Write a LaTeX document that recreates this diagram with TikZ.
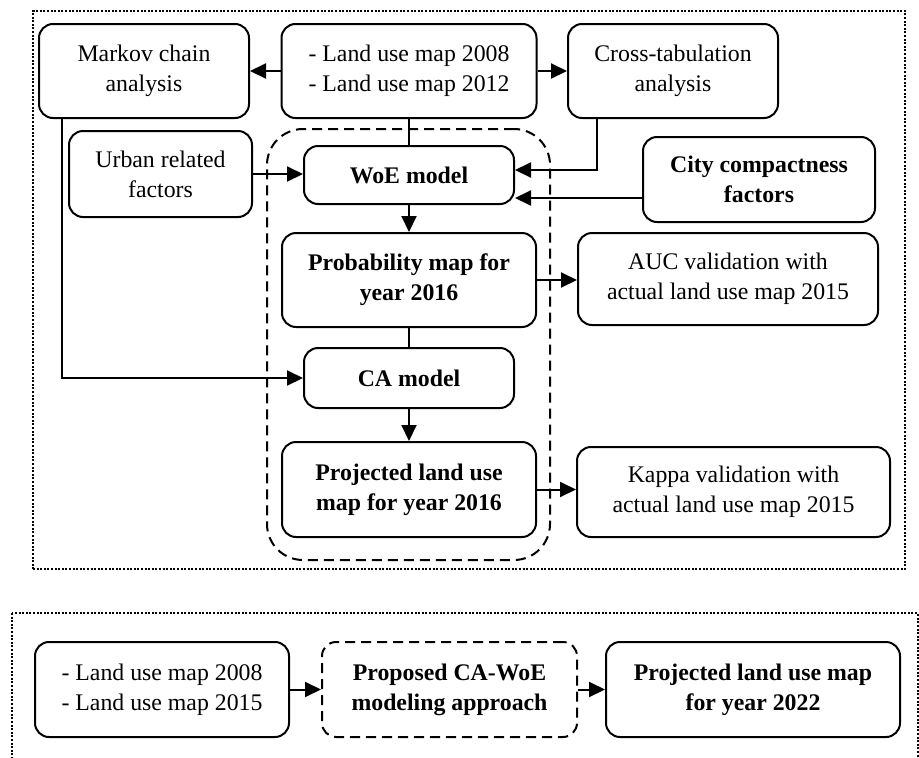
\documentclass[tikz,border=0pt]{standalone}
\usepackage{fontspec}
\setmainfont{Liberation Serif}
\usetikzlibrary{arrows.meta,calc}
\begin{document}
\begin{tikzpicture}[x=1pt,y=-1pt,
 box/.style={draw, line width=2pt, rounded corners=14pt, align=center, inner sep=0pt, font=\fontsize{23.8}{30}\selectfont},
 bbox/.style={box, font=\fontsize{23.8}{30}\selectfont\bfseries},
 dbox/.style={bbox, dash pattern=on 10pt off 6pt},
 conn/.style={line width=2pt},
 arr/.style={conn, -{Triangle[length=16pt,width=15pt]}},
 dotbox/.style={draw, line width=2pt, dash pattern=on 2pt off 1.6pt},
 groupbox/.style={draw, line width=2pt, dash pattern=on 10pt off 6pt, rounded corners=36pt, inner sep=0pt},
 ]
\useasboundingbox (0,0) rectangle (919,758);
% frames
\node[dotbox, minimum width=872pt, minimum height=558pt, inner sep=0pt] (stage1) at (469,290) {};
\draw[dotbox] (12,613) rectangle (917.5,790);
\node[groupbox, minimum width=283pt, minimum height=431pt] (group) at (408.5,344.5) {};
% top row
\node[box, minimum width=210pt, minimum height=94pt] (markov) at (144,71) {Markov chain\\analysis};
\node[box, minimum width=255pt, minimum height=94pt] (landtop) at (409,71) {- Land use map 2008\\- Land use map 2012};
\node[box, minimum width=210pt, minimum height=94pt] (cross) at (673,71) {Cross-tabulation\\analysis};
% second row
\node[box, minimum width=183pt, minimum height=86pt] (urban) at (160.5,174) {Urban related\\factors};
\node[bbox, minimum width=210pt, minimum height=58pt] (woe) at (409,175) {WoE model};
\node[bbox, minimum width=232pt, minimum height=85pt] (city) at (759,179.5) {City compactness\\factors};
% probability
\node[bbox, minimum width=254pt, minimum height=94pt] (prob) at (409,280) {Probability map for\\year 2016};
\node[box, minimum width=300pt, minimum height=92pt] (auc) at (728,279) {AUC validation with\\actual land use map 2015};
% CA
\node[bbox, minimum width=210pt, minimum height=60pt] (ca) at (409,378) {CA model};
% projected
\node[bbox, minimum width=254pt, minimum height=95pt] (proj) at (409,489.5) {Projected land use\\map for year 2016};
\node[box, minimum width=313pt, minimum height=90pt] (kappa) at (733.5,492) {Kappa validation with\\actual land use map 2015};
% bottom stage
\node[box, minimum width=254pt, minimum height=95pt] (land2) at (162,689.5) {- Land use map 2008\\- Land use map 2015};
\node[dbox, minimum width=255pt, minimum height=95pt] (proposed) at (449.5,689.5) {Proposed CA-WoE\\modeling approach};
\node[bbox, minimum width=294pt, minimum height=95pt] (proj2) at (753,689.5) {Projected land use map\\for year 2022};
% connectors
\coordinate (cityy) at (0,198);
\draw[arr] (landtop.west) -- (markov.east);
\draw[arr] (landtop.east) -- (cross.west);
\draw[conn] (landtop.south) -- (woe.north);
\draw[arr] ($(cross.south west)+(30,0)$) |- ($(woe.east)+(0,-5)$);
\draw[arr] (city.west |- cityy) -- (woe.east |- cityy);
\draw[arr] (urban.east) -- (urban.east -| woe.west);
\draw[arr] (woe.south) -- (prob.north);
\draw[arr] (prob.east) -- (prob.east -| auc.west);
\draw[conn] (prob.south) -- (ca.north);
\draw[arr] ($(markov.south west)+(24,0)$) |- (ca.west);
\draw[arr] (ca.south) -- (proj.north);
\draw[arr] (proj.east) -- (proj.east -| kappa.west);
\draw[arr] (land2.east) -- (proposed.west);
\draw[arr] (proposed.east) -- (proj2.west);
\end{tikzpicture}
\end{document}
